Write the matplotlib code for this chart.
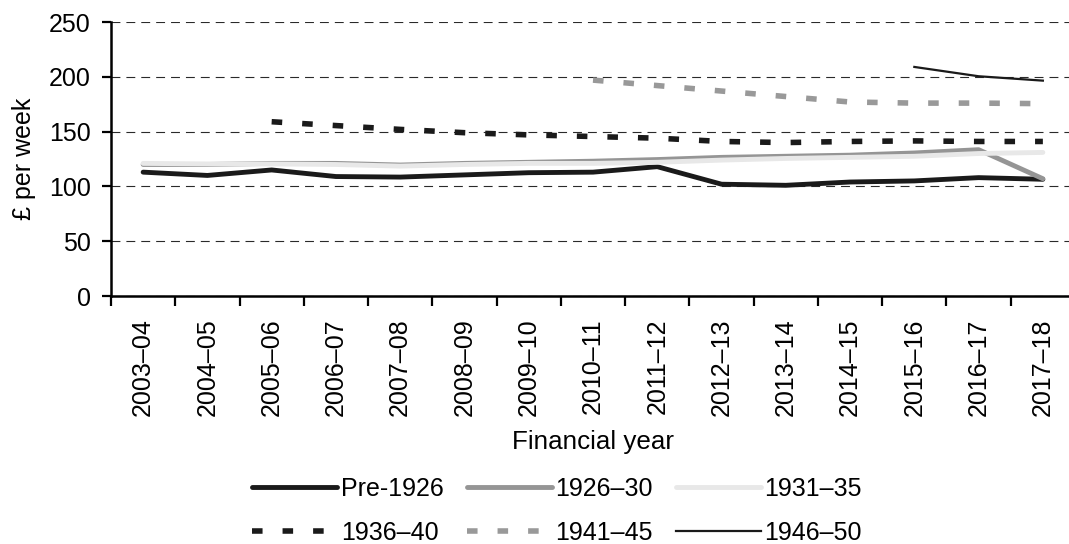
import matplotlib
matplotlib.use("Agg")
import matplotlib.pyplot as plt
import numpy as np

years = ["2003–04", "2004–05", "2005–06", "2006–07", "2007–08", "2008–09", "2009–10",
         "2010–11", "2011–12", "2012–13", "2013–14", "2014–15", "2015–16", "2016–17", "2017–18"]

pre1926 = [113, 110, 115, 109, 108.5, 110.5, 112.5, 113, 118, 102, 101, 104, 105, 108, 106.5]
c1926_30 = [120, 120, 121, 121, 119.5, 121, 122, 123, 124.5, 126.5, 127.5, 128.5, 130.5, 133.5, 107]
c1931_35 = [121, 120.5, 120.5, 120, 118.5, 120, 121, 121, 122, 124, 125.5, 126.5, 127.5, 130, 131]
c1936_40 = [None, None, 159, 155.5, 152, 149, 147, 145.5, 144, 141, 140, 141, 141.5, 141, 141]
c1941_45 = [None] * 7 + [197, 192, 187, 182, 177, 176, 176, 175.5]
c1946_50 = [None] * 12 + [209, 200.5, 196.5]

plt.rcParams['font.family'] = ['Liberation Sans', 'DejaVu Sans']
FS = 18

fig = plt.figure(figsize=(10.69, 5.44), dpi=100)
ax = fig.add_axes([111 / 1069, 1 - 296 / 544, 964 / 1069, 274 / 544])

x = np.arange(len(years))

def arr(v):
    return np.array([np.nan if a is None else a for a in v], dtype=float)

l1, = ax.plot(x, arr(pre1926), color='#1a1a1a', lw=3.5, solid_capstyle='round', label='Pre-1926')
l2, = ax.plot(x, arr(c1926_30), color='#959595', lw=3.5, solid_capstyle='round', label='1926–30')
l3, = ax.plot(x, arr(c1931_35), color='#e8e8e8', lw=3.5, solid_capstyle='round', label='1931–35')
l4, = ax.plot(x, arr(c1936_40), color='#1a1a1a', lw=4, dashes=(1.9, 3.6), label='1936–40')
l5, = ax.plot(x, arr(c1941_45), color='#999999', lw=4, dashes=(1.9, 3.6), label='1941–45')
l6, = ax.plot(x, arr(c1946_50), color='#1a1a1a', lw=1.6, label='1946–50')

ax.set_ylim(0, 250)
ax.set_xlim(-0.5, len(years) - 0.5)
ax.set_yticks([0, 50, 100, 150, 200, 250])
ax.yaxis.grid(True, linestyle=(0, (8, 5.4)), color='#2a2a2a', lw=0.8)
ax.set_axisbelow(True)

ax.set_xticks(x)
ax.set_xticklabels(years, rotation=90, fontsize=FS)
ax.tick_params(axis='x', which='major', length=0, pad=16)
ax.set_xticks(np.arange(-0.5, len(years) + 0.5, 1), minor=True)
ax.tick_params(axis='x', which='minor', length=7, width=1.6, direction='out', color='black')
ax.tick_params(axis='y', length=6.5, width=1.6, direction='out', labelsize=FS, pad=8)

for s in ['top', 'right']:
    ax.spines[s].set_visible(False)
for s in ['left', 'bottom']:
    ax.spines[s].set_linewidth(1.8)
    ax.spines[s].set_color('black')

ax.set_ylabel('£ per week', fontsize=FS, labelpad=9)
ax.set_xlabel('Financial year', fontsize=18.7, labelpad=10)

handles = [l1, l4, l2, l5, l3, l6]
leg = fig.legend(handles=handles, labels=[h.get_label() for h in handles], ncol=3,
                 loc='center', bbox_to_anchor=(557 / 1069, 1 - 511 / 544), frameon=False,
                 fontsize=FS, handlelength=3.4, handletextpad=0.15, columnspacing=0.92,
                 labelspacing=0.8, borderaxespad=0, borderpad=0)

fig.savefig('out.png', dpi=100)
